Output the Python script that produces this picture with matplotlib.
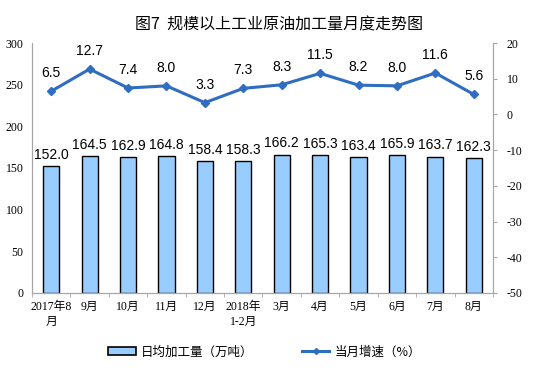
import matplotlib
matplotlib.use("Agg")
import numpy as np
from matplotlib import pyplot as plt
from matplotlib.lines import Line2D
from matplotlib.patches import Patch

plt.rcParams['font.family'] = ['Liberation Serif', 'Noto Sans CJK SC']
plt.rcParams['axes.unicode_minus'] = False

months = ["2017年8\n月", "9月", "10月", "11月", "12月", "2018年\n1-2月",
          "3月", "4月", "5月", "6月", "7月", "8月"]
daily_output = [152.0, 164.5, 162.9, 164.8, 158.4, 158.3,
                166.2, 165.3, 163.4, 165.9, 163.7, 162.3]
growth_rate = [6.5, 12.7, 7.4, 8.0, 3.3, 7.3, 8.3, 11.5, 8.2, 8.0, 11.6, 5.6]

bar_color = "#99CCFF"
line_color = "#2E6DC0"
axis_color = "#A6A6A6"
label_font = ['Liberation Sans', 'Noto Sans CJK SC']

fig = plt.figure(figsize=(5.58, 3.84), dpi=100)
ax = fig.add_axes([0.0573, 0.237, 0.8262, 0.651])
ax2 = ax.twinx()

x = np.arange(len(months))
ax.bar(x, daily_output, width=0.42, color=bar_color, edgecolor="black",
       linewidth=1.0, zorder=2)
for xi, v in zip(x, daily_output):
    ax.annotate("%.1f" % v, (xi, v), xytext=(0, 3), textcoords="offset points",
                ha="center", va="bottom", fontsize=10, family=label_font)

ax2.plot(x, growth_rate, color=line_color, linewidth=2.2, marker="D",
         markersize=4.5, zorder=3)
for xi, v in zip(x, growth_rate):
    ax2.annotate("%.1f" % v, (xi, v), xytext=(0, 8), textcoords="offset points",
                 ha="center", va="bottom", fontsize=10, family=label_font)

ax.set_xlim(-0.5, len(months) - 0.5)
ax.set_ylim(0, 300)
ax.set_yticks(range(0, 301, 50))
ax2.set_ylim(-50, 20)
ax2.set_yticks(range(-50, 21, 10))

ax.set_xticks(x)
ax.set_xticklabels(months, fontsize=8.5, linespacing=1.3)
ax.set_xticks(np.arange(-0.5, len(months), 1), minor=True)
ax.tick_params(axis="x", which="major", length=0, pad=6)
ax.tick_params(axis="x", which="minor", length=3, color=axis_color)
ax.tick_params(axis="y", length=0, labelsize=8.5, pad=6)
ax2.tick_params(axis="y", length=3, color=axis_color, labelsize=8.5, pad=7)

for a in (ax, ax2):
    a.spines["top"].set_visible(False)
    for s in ("left", "right", "bottom"):
        a.spines[s].set_color(axis_color)

fig.text(0.5, 0.935, "图7  规模以上工业原油加工量月度走势图", ha="center", va="center",
         fontsize=11.5, fontweight="medium", family=['Noto Sans CJK SC'])

handles = [Patch(facecolor=bar_color, edgecolor="black", linewidth=1.2),
           Line2D([0], [0], color=line_color, linewidth=2.2, marker="D", markersize=3)]
fig.legend(handles, ["日均加工量（万吨）", "当月增速（%）"], loc="center",
           bbox_to_anchor=(0.474, 0.083), ncol=2, frameon=False, columnspacing=3.9,
           handlelength=2.2, handleheight=0.6, handletextpad=0.4,
           prop={'family': ['Noto Sans CJK SC'], 'size': 9})

fig.savefig("out.png", dpi=100)
